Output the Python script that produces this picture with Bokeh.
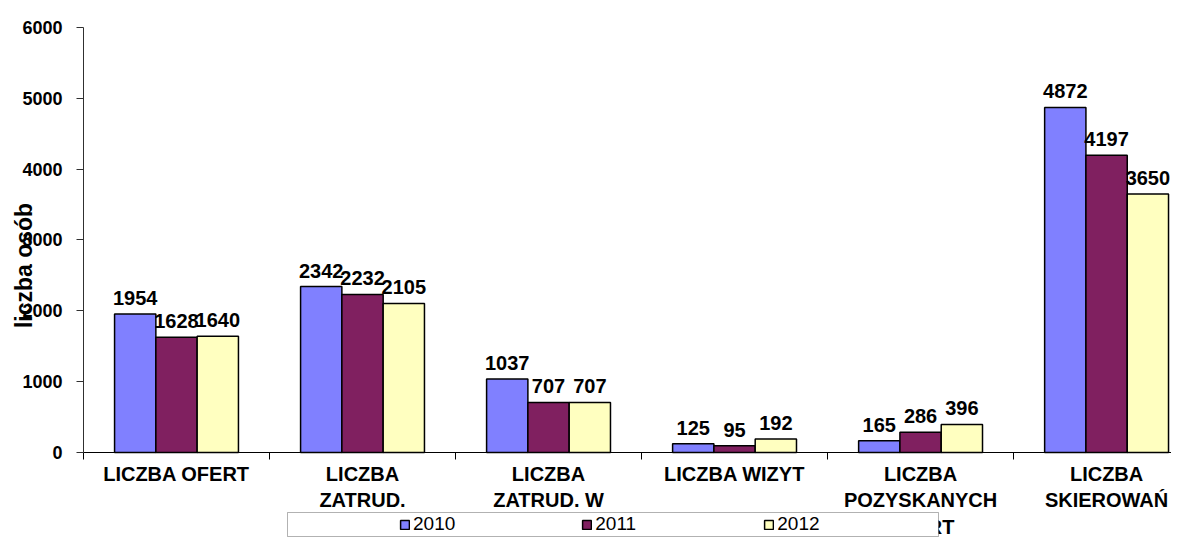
import numpy as np
from bokeh.plotting import figure
from bokeh.models import (Range1d, FixedTicker, Label, LabelSet, BoxAnnotation,
                          Legend, LegendItem, ColumnDataSource)
from bokeh.core.properties import value
from bokeh.embed import file_html
from bokeh.resources import INLINE

categories = ["LICZBA OFERT", "LICZBA\nZATRUD.\nOGÓŁEM", "LICZBA\nZATRUD. W\nWYN.\nSKIEROWAŃ",
              "LICZBA WIZYT", "LICZBA\nPOZYSKANYCH\nOFERT", "LICZBA\nSKIEROWAŃ"]
years = ["2010", "2011", "2012"]
v2010 = [1954, 2342, 1037, 125, 165, 4872]
v2011 = [1628, 2232, 707, 95, 286, 4197]
v2012 = [1640, 2105, 707, 192, 396, 3650]
y_ticks = [0, 1000, 2000, 3000, 4000, 5000, 6000]
y_label = "liczba osób"

colors = ["#8080FF", "#802060", "#FFFFC0"]
offsets = [-0.222, 0.0, 0.222]
bar_w = 0.222
FONT = "Liberation Sans"
W, H = 1171, 537

n = len(categories)
centers = np.arange(n) + 0.5

# The frame fills the whole canvas; both axes are pinned at 0 so that
# text outside the bar area (category names, legend) is not clipped.
p = figure(width=W, height=H, x_range=Range1d(-0.4462, 5.849), y_range=Range1d(-1200, 6381),
           output_backend="svg", toolbar_location=None,
           min_border_left=0, min_border_right=0, min_border_top=0, min_border_bottom=0)
p.grid.visible = False
p.outline_line_color = None
p.background_fill_color = "white"

renderers = []
for vals, col, off in zip([v2010, v2011, v2012], colors, offsets):
    src = ColumnDataSource(dict(x=centers + off, top=vals, txt=[str(v) for v in vals]))
    r = p.vbar(x="x", top="top", width=bar_w, source=src, fill_color=col,
               line_color="black", line_width=1.5)
    renderers.append(r)
    p.add_layout(LabelSet(x="x", y="top", text="txt", source=src, text_align="center",
                          text_baseline="alphabetic", y_offset=9,
                          text_font=value(FONT), text_font_style="bold",
                          text_font_size="20px", text_color="black"))

# y axis
yax = p.yaxis[0]
yax.fixed_location = 0
yax.bounds = (0, 6000)
yax.ticker = FixedTicker(ticks=y_ticks)
yax.major_label_text_font = FONT
yax.major_label_text_font_style = "bold"
yax.major_label_text_font_size = "18px"
yax.major_label_text_color = "black"
yax.major_tick_in = 0
yax.major_tick_out = 7
yax.minor_tick_line_color = None
yax.major_label_standoff = 14
yax.axis_line_color = "#303030"
yax.major_tick_line_color = "#303030"

# x axis: ticks at category boundaries, category names drawn as labels below
xax = p.xaxis[0]
xax.fixed_location = 0
xax.bounds = (0, 5.849)
boundaries = list(range(n + 1))
xax.ticker = FixedTicker(ticks=boundaries)
xax.major_label_overrides = {b: "" for b in boundaries}
xax.major_tick_in = 0
xax.major_tick_out = 7
xax.minor_tick_line_color = None
xax.axis_line_color = "black"
xax.major_tick_line_color = "black"

# screen units are measured from the frame's bottom-left corner (= canvas here)
for c, txt in zip(centers, categories):
    p.add_layout(Label(x=c, y=H - 462, x_units="data", y_units="screen", text=txt,
                       text_align="center", text_baseline="top",
                       text_font=FONT, text_font_style="bold", text_font_size="20px",
                       text_line_height=1.22, text_color="black"))

p.add_layout(Label(x=23, y=H - 265, x_units="screen", y_units="screen", text=y_label,
                   angle=np.pi / 2, text_align="center", text_baseline="middle",
                   text_font=FONT, text_font_style="bold", text_font_size="23px",
                   text_color="black"))

box = BoxAnnotation(left=287, right=938, top=H - 512, bottom=1,
                    left_units="screen", right_units="screen",
                    top_units="screen", bottom_units="screen",
                    fill_color="white", fill_alpha=1.0, line_color="black", line_width=1)
p.add_layout(box)

legend = Legend(items=[LegendItem(label=y, renderers=[r]) for y, r in zip(years, renderers)],
                location=(397, 0), orientation="horizontal",
                background_fill_alpha=0, border_line_alpha=0, padding=2, margin=0,
                spacing=126, glyph_width=11, glyph_height=11, label_standoff=3,
                label_width=42, label_text_font=FONT, label_text_font_size="19px",
                label_text_color="black")
p.add_layout(legend, "center")

open("out.html", "w").write(file_html(p, INLINE))
